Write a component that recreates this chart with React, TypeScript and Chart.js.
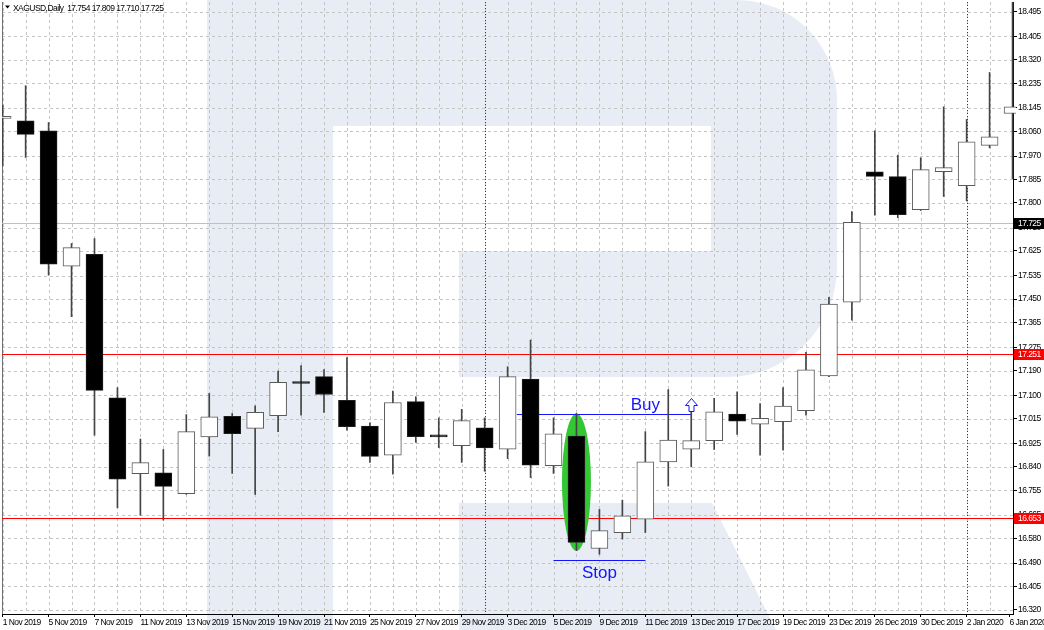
import React, { useEffect, useRef } from 'react';
import { Chart, registerables } from 'chart.js';

Chart.register(...registerables);

// ---------- data ----------
const dates = [
  '1 Nov 2019', '4 Nov 2019', '5 Nov 2019', '6 Nov 2019', '7 Nov 2019', '8 Nov 2019',
  '11 Nov 2019', '12 Nov 2019', '13 Nov 2019', '14 Nov 2019', '15 Nov 2019',
  '18 Nov 2019', '19 Nov 2019', '20 Nov 2019', '21 Nov 2019', '22 Nov 2019',
  '25 Nov 2019', '26 Nov 2019', '27 Nov 2019', '28 Nov 2019', '29 Nov 2019',
  '2 Dec 2019', '3 Dec 2019', '4 Dec 2019', '5 Dec 2019', '6 Dec 2019',
  '9 Dec 2019', '10 Dec 2019', '11 Dec 2019', '12 Dec 2019', '13 Dec 2019',
  '16 Dec 2019', '17 Dec 2019', '18 Dec 2019', '19 Dec 2019', '20 Dec 2019',
  '23 Dec 2019', '24 Dec 2019', '26 Dec 2019', '27 Dec 2019', '30 Dec 2019',
  '31 Dec 2019', '2 Jan 2020', '3 Jan 2020', '6 Jan 2020',
];

const opens = [
  18.107, 18.098, 18.062, 17.570, 17.613, 17.091, 16.815, 16.818, 16.742, 16.949,
  17.024, 16.980, 17.026, 17.146, 17.168, 17.082, 16.988, 16.882, 17.077, 16.951,
  16.917, 16.982, 16.904, 17.159, 16.844, 16.952, 16.543, 16.601, 16.650, 16.858,
  16.904, 16.935, 17.032, 16.995, 17.004, 17.044, 17.171, 17.439, 17.913, 17.895,
  17.775, 17.913, 17.862, 18.009, 18.125,
];
const highs = [
  18.155, 18.226, 18.092, 17.652, 17.670, 17.128, 16.941, 16.903, 17.030, 17.107,
  17.034, 17.062, 17.188, 17.208, 17.194, 17.237, 17.000, 17.115, 17.095, 17.018,
  17.049, 17.018, 17.204, 17.301, 17.018, 17.034, 16.685, 16.719, 16.968, 17.121,
  17.040, 17.089, 17.113, 17.070, 17.128, 17.256, 17.456, 17.768, 18.062, 17.973,
  17.964, 18.149, 18.103, 18.274, 18.600,
];
const lows = [
  17.937, 17.965, 17.537, 17.386, 16.955, 16.691, 16.664, 16.646, 16.740, 16.879,
  16.816, 16.740, 16.968, 17.028, 17.038, 16.973, 16.856, 16.813, 16.929, 16.910,
  16.856, 16.824, 16.870, 16.801, 16.816, 16.535, 16.522, 16.577, 16.601, 16.770,
  16.840, 16.903, 16.958, 16.882, 16.901, 17.028, 17.168, 17.373, 17.755, 17.746,
  17.772, 17.823, 17.807, 18.000, 17.888,
];
const closes = [
  18.115, 18.049, 17.577, 17.637, 17.118, 16.795, 16.855, 16.769, 16.968, 17.022,
  16.961, 17.038, 17.147, 17.143, 17.103, 16.986, 16.878, 17.074, 16.950, 16.949,
  17.008, 16.909, 17.168, 16.846, 16.960, 16.565, 16.608, 16.662, 16.858, 16.937,
  16.935, 17.040, 17.006, 17.016, 17.061, 17.193, 17.432, 17.729, 17.896, 17.757,
  17.921, 17.928, 18.022, 18.040, 18.149,
];

const yTicks = [
  18.495, 18.405, 18.32, 18.235, 18.145, 18.06, 17.97, 17.885, 17.8, 17.71,
  17.625, 17.535, 17.45, 17.365, 17.275, 17.19, 17.1, 17.015, 16.925, 16.84,
  16.755, 16.665, 16.58, 16.49, 16.405, 16.32,
];

const monthStarts = [21, 42];
const levelLines = [17.251, 16.653];
const bidPrice = 17.725;
const headerText = 'XAGUSD,Daily  17.754 17.809 17.710 17.725';
const signalIndex = 25;
const buyPrice = 17.033;
const buyFrom = 22.4;
const buyTo = 30;
const buyLabelAt = 28;
const stopPrice = 16.502;
const stopFrom = 24;
const stopTo = 28;
const stopLabelAt = 26;

// ---------- styles ----------
const FONT_FAMILY = "'Liberation Sans', Arial, sans-serif";
const FONT_SIZE = 8.5;
const SMALL_FONT = `${FONT_SIZE}px ${FONT_FAMILY}`;
const TIGHT = '-0.55px';
const WM = '#e7ecf5';
const BLUE = '#1414ff';
const LAST_LABEL_SHIFT = 0.13; // last date label nudged left so it fits, as in the terminal

const watermarkPlugin = {
  id: 'watermark',
  beforeDraw(chart: any) {
    const { ctx, width, height } = chart;
    ctx.save();
    ctx.fillStyle = '#ffffff';
    ctx.fillRect(0, 0, width, height);
    ctx.fillStyle = WM;
    // stem
    ctx.fillRect(207, 0, 126, height);
    // bowl
    ctx.beginPath();
    ctx.moveTo(333, 0);
    ctx.lineTo(737, 0);
    ctx.arcTo(837, 0, 837, 100, 100);
    ctx.lineTo(837, 267);
    ctx.arcTo(837, 377, 727, 377, 110);
    ctx.lineTo(459, 377);
    ctx.lineTo(459, 251);
    ctx.lineTo(711, 251);
    ctx.lineTo(711, 126);
    ctx.lineTo(333, 126);
    ctx.closePath();
    ctx.fill();
    // leg
    ctx.beginPath();
    ctx.moveTo(459, 503);
    ctx.lineTo(712, 503);
    ctx.lineTo(776, height);
    ctx.lineTo(459, height);
    ctx.closePath();
    ctx.fill();
    ctx.restore();
    // tighter tick labels (narrow terminal font look)
    (ctx as any).letterSpacing = TIGHT;
  },
};

const gridPlugin = {
  id: 'mtGrid',
  beforeDatasetsDraw(chart: any) {
    const { ctx, chartArea: a, scales } = chart;
    const x = scales.x;
    const y = scales.y;
    ctx.save();
    ctx.beginPath();
    ctx.rect(a.left, a.top, a.right - a.left, a.bottom - a.top);
    ctx.clip();

    // dashed grid
    ctx.strokeStyle = '#c4c4c4';
    ctx.lineWidth = 1;
    ctx.setLineDash([3, 3]);
    ctx.beginPath();
    for (let i = 0; i < dates.length; i++) {
      const px = Math.round(x.getPixelForValue(i)) + 0.5;
      ctx.moveTo(px, a.top);
      ctx.lineTo(px, a.bottom);
    }
    for (const v of yTicks) {
      const py = Math.round(y.getPixelForValue(v)) + 0.5;
      ctx.moveTo(a.left, py);
      ctx.lineTo(a.right, py);
    }
    ctx.stroke();

    // month separators
    ctx.strokeStyle = '#3a3a3a';
    ctx.setLineDash([1, 2]);
    ctx.beginPath();
    for (const m of monthStarts) {
      const px = Math.round(x.getPixelForValue(m)) + 0.5;
      ctx.moveTo(px, a.top);
      ctx.lineTo(px, a.bottom);
    }
    ctx.stroke();
    ctx.setLineDash([]);

    // left border
    ctx.strokeStyle = '#707070';
    ctx.beginPath();
    ctx.moveTo(a.left + 0.5, a.top);
    ctx.lineTo(a.left + 0.5, a.bottom);
    ctx.stroke();

    // bid line
    ctx.strokeStyle = '#c0c0c0';
    ctx.beginPath();
    const bp = Math.round(y.getPixelForValue(bidPrice)) + 0.5;
    ctx.moveTo(a.left, bp);
    ctx.lineTo(a.right, bp);
    ctx.stroke();

    // red levels
    for (const lv of levelLines) {
      const py = Math.round(y.getPixelForValue(lv)) + 0.5;
      ctx.strokeStyle = '#ff0000';
      ctx.lineWidth = 1;
      ctx.beginPath();
      ctx.moveTo(a.left, py);
      ctx.lineTo(a.right, py);
      ctx.stroke();
    }

    // green ellipse around signal candle
    const cx = x.getPixelForValue(signalIndex);
    const yt = y.getPixelForValue(highs[signalIndex]);
    const yb = y.getPixelForValue(lows[signalIndex]);
    ctx.fillStyle = '#33c833';
    ctx.beginPath();
    ctx.ellipse(cx, (yt + yb) / 2, 14.5, (yb - yt) / 2, 0, 0, Math.PI * 2);
    ctx.fill();

    // buy / stop lines
    ctx.strokeStyle = BLUE;
    ctx.beginPath();
    const byy = Math.round(y.getPixelForValue(buyPrice)) + 0.5;
    ctx.moveTo(x.getPixelForValue(buyFrom), byy);
    ctx.lineTo(x.getPixelForValue(buyTo), byy);
    const syy = Math.round(y.getPixelForValue(stopPrice)) + 0.5;
    ctx.moveTo(x.getPixelForValue(stopFrom), syy);
    ctx.lineTo(x.getPixelForValue(stopTo), syy);
    ctx.stroke();
    ctx.restore();
  },
  afterDatasetsDraw(chart: any) {
    const { ctx, scales } = chart;
    const x = scales.x;
    const y = scales.y;
    ctx.save();
    (ctx as any).letterSpacing = '0px';
    ctx.font = `17px 'Liberation Sans', Arial, sans-serif`;
    ctx.fillStyle = BLUE;
    ctx.textAlign = 'center';
    ctx.textBaseline = 'alphabetic';
    const by = y.getPixelForValue(buyPrice);
    ctx.fillText('Buy', x.getPixelForValue(buyLabelAt), by - 3.5);
    const sy = y.getPixelForValue(stopPrice);
    ctx.fillText('Stop', x.getPixelForValue(stopLabelAt), sy + 18);

    // up arrow
    const ax = Math.round(x.getPixelForValue(buyTo)) + 0.5;
    const tip = Math.round(by - 16) + 0.5;
    const base = Math.round(by - 3) + 0.5;
    ctx.beginPath();
    ctx.moveTo(ax, tip);
    ctx.lineTo(ax + 6, tip + 7);
    ctx.lineTo(ax + 2.5, tip + 7);
    ctx.lineTo(ax + 2.5, base);
    ctx.lineTo(ax - 2.5, base);
    ctx.lineTo(ax - 2.5, tip + 7);
    ctx.lineTo(ax - 6, tip + 7);
    ctx.closePath();
    ctx.fillStyle = '#ffffff';
    ctx.fill();
    ctx.strokeStyle = BLUE;
    ctx.lineWidth = 1;
    ctx.stroke();
    ctx.restore();
  },
  afterDraw(chart: any) {
    const { ctx, chartArea: a, scales } = chart;
    const y = scales.y;
    ctx.save();
    (ctx as any).letterSpacing = TIGHT;
    const tag = (price: number, bg: string) => {
      const py = Math.round(y.getPixelForValue(price));
      ctx.fillStyle = bg;
      ctx.fillRect(a.right + 1, py - 5, 31, 11);
      ctx.fillStyle = '#ffffff';
      ctx.font = SMALL_FONT;
      ctx.textAlign = 'left';
      ctx.textBaseline = 'middle';
      ctx.fillText(price.toFixed(3), a.right + 5, py + 0.5);
    };
    tag(bidPrice, '#000000');
    for (const lv of levelLines) tag(lv, '#ff0000');

    // header
    ctx.fillStyle = '#000000';
    ctx.beginPath();
    ctx.moveTo(5, 5.5);
    ctx.lineTo(10, 5.5);
    ctx.lineTo(7.5, 8.5);
    ctx.closePath();
    ctx.fill();
    ctx.font = SMALL_FONT;
    ctx.textAlign = 'left';
    ctx.textBaseline = 'alphabetic';
    ctx.fillText(headerText, 13, 10.5);
    ctx.restore();
    (ctx as any).letterSpacing = '0px';
  },
};

export default function App() {
  const ref = useRef<HTMLCanvasElement>(null);

  useEffect(() => {
    document.body.style.margin = '0';
    document.body.style.overflow = 'hidden';
    const canvas = ref.current;
    if (!canvas) return;
    const isDown = (i: number) => closes[i] < opens[i];
    const clip = { left: 0, top: 0, right: 3, bottom: 0 };
    const font = { family: FONT_FAMILY, size: FONT_SIZE };
    const last = dates.length - 1;

    const chart = new Chart(canvas, {
      type: 'bar',
      data: {
        datasets: [
          {
            label: 'body',
            data: opens.map((o, i) => ({ x: i, y: [o, closes[i]] })) as any,
            backgroundColor: opens.map((_, i) => (isDown(i) ? '#000000' : '#ffffff')),
            borderColor: opens.map((_, i) => (isDown(i) ? '#1e1e1e' : '#5a5a5a')),
            borderWidth: 1,
            borderSkipped: false,
            barThickness: 17,
            minBarLength: 2,
            grouped: false,
            order: 0,
            clip,
          } as any,
          {
            label: 'wick',
            data: lows.map((l, i) => ({ x: i, y: [l, highs[i]] })) as any,
            backgroundColor: '#444444',
            borderWidth: 0,
            barThickness: 1,
            grouped: false,
            order: 1,
            clip,
          } as any,
        ],
      },
      options: {
        responsive: false,
        animation: false,
        devicePixelRatio: 1,
        events: [],
        layout: { padding: { left: 2, top: 2, right: 0, bottom: 0 } },
        plugins: { legend: { display: false }, tooltip: { enabled: false } },
        scales: {
          x: {
            type: 'linear',
            position: 'bottom',
            offset: false,
            min: -0.03,
            max: 44.02,
            afterBuildTicks: (s: any) => {
              s.ticks = dates.map((_, i) => ({ value: i === last ? i - LAST_LABEL_SHIFT : i }));
            },
            afterFit: (s: any) => {
              s.height = 16;
              s.paddingLeft = 0;
              s.paddingRight = 0;
            },
            ticks: {
              autoSkip: false,
              maxRotation: 0,
              minRotation: 0,
              align: 'start',
              padding: 1,
              color: '#000000',
              font,
              callback: (v: any, idx: number) => (idx % 2 === 0 ? dates[idx] : ''),
            },
            grid: {
              display: true,
              offset: false,
              drawOnChartArea: false,
              drawTicks: true,
              tickLength: 3,
              tickColor: (c: any) => (c.index % 2 === 0 ? '#000000' : 'rgba(0,0,0,0)'),
            },
            border: { display: true, color: '#000000' },
          } as any,
          y: {
            type: 'linear',
            position: 'right',
            min: 16.3048,
            max: 18.5303,
            afterBuildTicks: (s: any) => {
              s.ticks = yTicks.map((v) => ({ value: v }));
            },
            afterFit: (s: any) => {
              s.width = 31;
              s.paddingTop = 0;
              s.paddingBottom = 0;
            },
            ticks: {
              autoSkip: false,
              padding: 1,
              color: '#000000',
              font,
              callback: (v: any) => Number(v).toFixed(3),
            },
            grid: {
              display: true,
              drawOnChartArea: false,
              drawTicks: true,
              tickLength: 4,
              tickColor: '#000000',
            },
            border: { display: true, color: '#000000' },
          } as any,
        },
      },
      plugins: [watermarkPlugin, gridPlugin],
    });

    return () => chart.destroy();
  }, []);

  return (
    <div style={{ width: 1044, height: 630 }}>
      <canvas ref={ref} width={1044} height={630} style={{ display: 'block', width: 1044, height: 630 }} />
    </div>
  );
}
